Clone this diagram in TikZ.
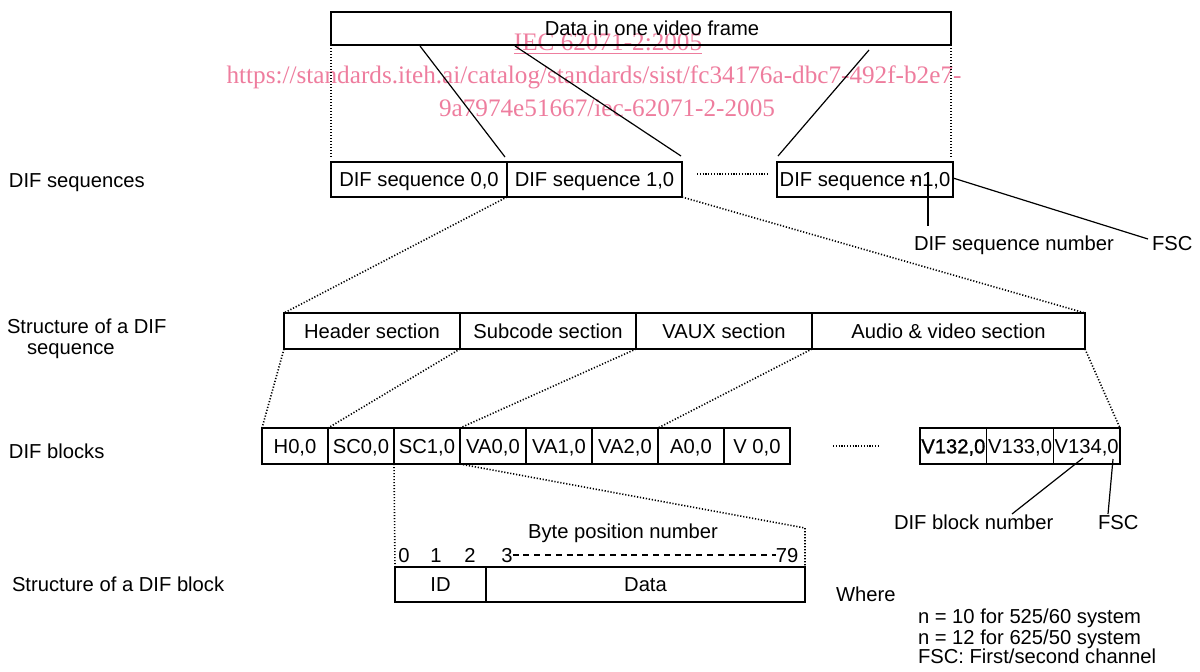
\documentclass[tikz,border=0pt]{standalone}
\usepackage{fontspec}
\setmainfont{Liberation Sans}
\newfontfamily\wmfont{Liberation Serif}
\definecolor{wmpink}{RGB}{238,125,158}
\begin{document}
\begin{tikzpicture}[x=0.5pt,y=-0.5pt,
  every node/.style={font=\fontsize{10.1pt}{12pt}\selectfont},
  box/.style={draw, line width=0.6pt, inner sep=0pt, outer sep=0pt, anchor=north west,
              text height=7.3pt, text depth=0pt},
  seqbox/.style={box, minimum height=17.5pt},
  secbox/.style={box, minimum height=18pt, minimum width=88pt},
  blk/.style={box, minimum height=18pt, minimum width=33pt},
  lbl/.style={inner sep=0pt, outer sep=0pt, anchor=west, text height=7.3pt, text depth=0pt},
  num/.style={lbl, anchor=center},
  link/.style={line width=0.6pt},
  dotlink/.style={line width=0.8pt, dash pattern=on 0.6pt off 0.9pt},
  gap/.style={line width=1pt, dash pattern=on 0.6pt off 0.8pt},
  wm/.style={text=wmpink, font=\wmfont\fontsize{12.6pt}{14pt}\selectfont, inner sep=0pt}
]
\useasboundingbox (0,0) rectangle (1200,671);

% stamp printed across the upper part of the page
\node[wm] (wm1) at (608,44) {\underline{IEC 62071-2:2005}};
\node[wm] (wm2) at (594,77) {https://standards.iteh.ai/catalog/standards/sist/fc34176a-dbc7-492f-b2e7-};
\node[wm] (wm3) at (607,108) {9a7974e51667/iec-62071-2-2005};

% row labels
\node[lbl] (lseq)  at (9,180)  {DIF sequences};
\node[lbl] (lstr)  at (7,326)  {Structure of a DIF};
\node[lbl] (lstr2) at (27,347) {sequence};
\node[lbl] (lblk)  at (9,451)  {DIF blocks};
\node[lbl] (lbs)   at (12,584) {Structure of a DIF block};

% whole frame
\node[box, minimum width=310pt, minimum height=16.5pt] (frame) at (331,12)
  {\hspace*{11pt}Data in one video frame};

% DIF sequences
\node[seqbox, minimum width=88pt]   (s0) at (331,162) {DIF sequence 0,0};
\node[seqbox, minimum width=87.5pt] (s1) at (507,162) {DIF sequence 1,0};
\node[seqbox, minimum width=88pt]   (sn) at (777,162) {DIF sequence \rlap{\kern-0.08em-}n1,0};

% sections of one sequence
\node[secbox] (hdr)  at (284,313) {Header section};
\node[secbox] (sub)  at (460,313) {Subcode section};
\node[secbox] (vaux) at (636,313) {VAUX section};
\node[secbox, minimum width=136.5pt] (av) at (812,313) {Audio \& video section};

% DIF blocks
\node[blk] (b1)  at (262,428) {H0,0};
\node[blk] (b2)  at (328,428) {SC0,0};
\node[blk] (b3)  at (394,428) {SC1,0};
\node[blk] (b4)  at (460,428) {VA0,0};
\node[blk] (b5)  at (526,428) {VA1,0};
\node[blk] (b6)  at (592,428) {VA2,0};
\node[blk] (b7)  at (658,428) {A0,0};
\node[blk] (b8)  at (724,428) {V 0,0};
\node[blk, minimum width=33.35pt] (b9)  at (920,428)   {\addfontfeatures{FakeBold=1}V132,0};
\node[blk, minimum width=33.35pt] (b10) at (986.7,428) {V133,0};
\node[blk, minimum width=33.35pt] (b11) at (1053.3,428) {V134,0};

% one DIF block
\node[box, minimum width=45.5pt, minimum height=17.5pt]  (id)   at (395,567) {ID};
\node[box, minimum width=159.5pt, minimum height=17.5pt] (data) at (486,567) {Data};
\node[num] (bpn) at (623,531) {Byte position number};
\node[num] (n0)  at (404,555) {0};
\node[num] (n1)  at (436,555) {1};
\node[num] (n2)  at (470,555) {2};
\node[num] (n3)  at (507,555) {3};
\node[num] (n79) at (787,555) {79};
\draw[line width=0.6pt, dash pattern=on 3pt off 2.4pt] (n3.east) -- (n79.west);

% callouts
\node[lbl] (sqnum) at (914,243)  {DIF sequence number};
\node[lbl] (fsc1)  at (1152,243) {FSC};
\node[lbl] (bnum)  at (894,522)  {DIF block number};
\node[lbl] (fsc2)  at (1098,522) {FSC};

% legend
\node[lbl] (where) at (836,594) {Where};
\node[lbl] (w1) at (918,616) {n = 10 for 525/60 system};
\node[lbl] (w2) at (918,637) {n = 12 for 625/50 system};
\node[lbl] (w3) at (918,656) {FSC: First/second channel};

% anchor points for free line ends
\coordinate (t1a) at (420,46);  \coordinate (t1b) at (505,157);
\coordinate (t2a) at (515,46);  \coordinate (t2b) at (681,156);
\coordinate (t3a) at (869,50);  \coordinate (t3b) at (778,156);
\coordinate (vl)  at (331,157); \coordinate (vr)  at (951,157);
\coordinate (g1a) at (697,174); \coordinate (g1b) at (768,174);
\coordinate (g2a) at (833,446); \coordinate (g2b) at (880,446);
\coordinate (sqa) at (928,172); \coordinate (sqb) at (928,226);
\coordinate (fa)  at (953,178); \coordinate (fb)  at (1148,239);
\coordinate (ba)  at (1083,458); \coordinate (bb) at (1012,514);
\coordinate (fc)  at (1113,459); \coordinate (fd) at (1108,514);
\coordinate (bpc) at (805,528);

% frame -> sequences
\draw[link] (t1a) -- (t1b);
\draw[link] (t2a) -- (t2b);
\draw[link] (t3a) -- (t3b);
\draw[dotlink] (frame.south west) -- (vl);
\draw[dotlink] (frame.south east) -- (vr);
\draw[gap] (g1a) -- (g1b);

% sequence -> sections
\draw[dotlink] (s1.south west) -- (hdr.north west);
\draw[dotlink] (s1.south east) -- (av.north east);

% sections -> blocks
\draw[dotlink] (hdr.south west)  -- (b1.north west);
\draw[dotlink] (sub.south west)  -- (b2.north west);
\draw[dotlink] (vaux.south west) -- (b4.north west);
\draw[dotlink] (av.south west)   -- (b7.north west);
\draw[dotlink] (av.south east)   -- (b11.north east);
\draw[gap] (g2a) -- (g2b);

% block -> bytes
\draw[dotlink] (b3.south west) -- (id.north west);
\draw[dotlink] (b3.south east) -- (bpc) -- (data.north east);

% callout leaders
\draw[link] (sqa) -- (sqb);
\draw[link] (fa) -- (fb);
\draw[link] (ba) -- (bb);
\draw[link] (fc) -- (fd);
\end{tikzpicture}
\end{document}
